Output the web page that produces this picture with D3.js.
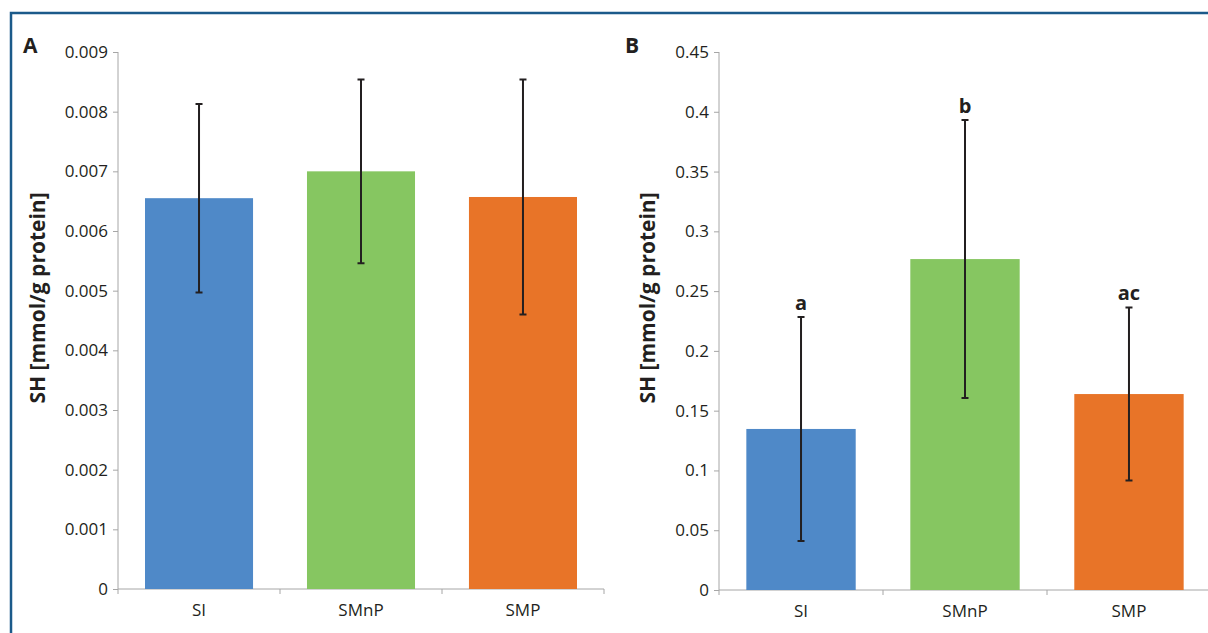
<!DOCTYPE html>
<html lang="en">
  <head>
    <meta charset="utf-8">
    <title>SH levels</title>
    <script src="https://d3js.org/d3.v7.js"></script>
    <style>
      body { margin: 0; background: white; }
      * { font-family: "Open Sans", sans-serif; }
    </style>
  </head>
  <body>
    <script type="text/javascript">
      // data
      var groups = ["SI", "SMnP", "SMP"];
      var colors = ["#4f89c8", "#86c661", "#e87428"];

      var meanA = [0.00655, 0.00700, 0.00657];
      var sdA = [0.00158, 0.00154, 0.00197];
      var ticksA = [0, 0.001, 0.002, 0.003, 0.004, 0.005, 0.006, 0.007, 0.008, 0.009];

      var meanB = [0.1347, 0.2768, 0.1639];
      var sdB = [0.0937, 0.1163, 0.0724];
      var lettersB = ["a", "b", "ac"];
      var ticksB = [0, 0.05, 0.1, 0.15, 0.2, 0.25, 0.3, 0.35, 0.4, 0.45];

      var w = 1208, h = 633;

      var svg = d3.select("body").append("svg")
        .attr("width", w)
        .attr("height", h);

      // frame
      svg.append("path")
        .attr("d", `M11,${h} L11,13 L${w},13`)
        .attr("fill", "none")
        .attr("stroke", "#1b5a8a")
        .attr("stroke-width", 2.5);

      function panel(opts) {
        var yScale = d3.scaleLinear()
          .domain([0, opts.max])
          .range([opts.y0, 52]);
        var xScale = d3.scaleBand()
          .domain(groups)
          .range([opts.x0, opts.x1])
          .paddingInner(0.333)
          .paddingOuter(0.1667);
        var step = (opts.x1 - opts.x0) / groups.length;

        // y axis
        var yAxis = d3.axisLeft(yScale)
          .tickValues(opts.ticks)
          .tickSize(5)
          .tickPadding(5)
          .tickFormat(d => String(+d.toFixed(4)));
        var gy = svg.append("g")
          .attr("transform", `translate(${opts.x0},0)`)
          .call(yAxis);
        gy.select(".domain").attr("stroke", "#a6a6a6").attr("d", `M0,${yScale(opts.max)}V${opts.y0}`);
        gy.selectAll(".tick line").attr("stroke", "#a6a6a6");
        gy.selectAll(".tick text")
          .attr("font-size", 17)
          .attr("fill", "#231f20");

        // x axis
        svg.append("line")
          .attr("x1", opts.x0).attr("x2", Math.min(opts.x1, w))
          .attr("y1", opts.y0).attr("y2", opts.y0)
          .attr("stroke", "#a6a6a6");
        svg.selectAll(null)
          .data(d3.range(groups.length + 1))
          .enter().append("line")
          .attr("x1", i => opts.x0 + i * step)
          .attr("x2", i => opts.x0 + i * step)
          .attr("y1", opts.y0)
          .attr("y2", opts.y0 + 5)
          .attr("stroke", "#a6a6a6");
        svg.selectAll(null)
          .data(groups)
          .enter().append("text")
          .attr("x", d => xScale(d) + xScale.bandwidth() / 2)
          .attr("y", opts.y0 + 27)
          .attr("text-anchor", "middle")
          .attr("font-size", 17)
          .attr("fill", "#231f20")
          .text(d => d);

        // bars
        svg.selectAll(null)
          .data(groups)
          .enter().append("rect")
          .attr("x", d => xScale(d))
          .attr("width", xScale.bandwidth())
          .attr("y", (d, i) => yScale(opts.mean[i]))
          .attr("height", (d, i) => opts.y0 - yScale(opts.mean[i]))
          .attr("fill", (d, i) => colors[i]);

        // error bars
        groups.forEach(function(g, i) {
          var cx = xScale(g) + xScale.bandwidth() / 2;
          var top = yScale(opts.mean[i] + opts.sd[i]);
          var bot = yScale(opts.mean[i] - opts.sd[i]);
          svg.append("path")
            .attr("d", `M${cx},${top}V${bot}M${cx - 3.5},${top}H${cx + 3.5}M${cx - 3.5},${bot}H${cx + 3.5}`)
            .attr("stroke", "#231f20")
            .attr("stroke-width", 2)
            .attr("fill", "none");
          if (opts.letters) {
            svg.append("text")
              .attr("x", cx)
              .attr("y", top - 7)
              .attr("text-anchor", "middle")
              .attr("font-size", 20)
              .attr("font-weight", "bold")
              .attr("fill", "#231f20")
              .text(opts.letters[i]);
          }
        });

        // y label
        svg.append("text")
          .attr("transform", `translate(${opts.labelX},298) rotate(-90)`)
          .attr("text-anchor", "middle")
          .attr("font-size", 21)
          .attr("font-weight", "bold")
          .attr("fill", "#231f20")
          .text("SH [mmol/g protein]");

        // panel letter
        svg.append("text")
          .attr("x", opts.letterX)
          .attr("y", 53)
          .attr("font-size", 21)
          .attr("font-weight", "bold")
          .attr("fill", "#231f20")
          .text(opts.name);
      }

      panel({ name: "A", x0: 118, x1: 604, y0: 589, max: 0.009, ticks: ticksA,
              mean: meanA, sd: sdA, labelX: 45, letterX: 23 });
      panel({ name: "B", x0: 719, x1: 1211, y0: 590, max: 0.45, ticks: ticksB,
              mean: meanB, sd: sdB, letters: lettersB, labelX: 655, letterX: 625 });
    </script>
  </body>
</html>
